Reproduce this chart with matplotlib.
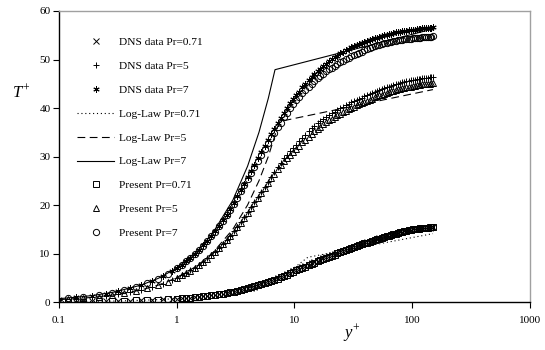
import matplotlib
matplotlib.use("Agg")
import matplotlib.pyplot as plt
from matplotlib.ticker import FixedLocator, NullLocator, FixedFormatter

plt.rcParams['font.family'] = ['Liberation Serif', 'DejaVu Serif']
plt.rcParams['mathtext.fontset'] = 'custom'
plt.rcParams['mathtext.rm'] = 'Liberation Serif'
plt.rcParams['mathtext.it'] = 'Liberation Serif:italic'

# wall distance y+ : near-wall points differ, outer grid is common
yp_dns = [0.10, 0.14, 0.19, 0.25, 0.32, 0.40, 0.50, 0.62, 0.76, 0.92,
          1.01, 1.10, 1.20, 1.31, 1.43, 1.55, 1.68, 1.82, 1.97, 2.12,
          2.29, 2.46, 2.65, 2.84, 3.05, 3.27, 3.50, 3.75, 4.01, 4.29,
          4.58, 4.90, 5.22, 5.58, 5.94, 6.34, 6.74, 7.19, 7.64, 8.14,
          8.65, 9.20, 9.78, 10.4, 11.0, 11.7, 12.4, 13.2, 14.0, 14.8,
          15.7, 16.6, 17.6, 18.6, 19.7, 20.8, 22.0, 23.2, 24.5, 25.9,
          27.3, 28.8, 30.4, 32.0, 33.7, 35.5, 37.4, 39.3, 41.3, 43.4,
          45.6, 47.9, 50.3, 52.7, 55.3, 57.9, 60.6, 63.4, 66.3, 69.3,
          72.4, 75.6, 78.9, 82.3, 85.8, 89.4, 93.1, 96.9, 100.8, 104.8,
          108.9, 113.1, 117.4, 121.8, 126.3, 130.9, 135.6, 140.4, 145.2, 149.8]
yp_pre = [0.12, 0.16, 0.22, 0.28, 0.36, 0.45, 0.56, 0.69, 0.84] + yp_dns[10:]

# DNS data
dns_071 = [0.07, 0.10, 0.13, 0.18, 0.23, 0.28, 0.36, 0.44, 0.54, 0.65,
           0.72, 0.78, 0.85, 0.93, 1.02, 1.10, 1.19, 1.29, 1.40, 1.50,
           1.62, 1.74, 1.87, 2.00, 2.15, 2.29, 2.45, 2.61, 2.80, 2.97,
           3.18, 3.43, 3.64, 3.86, 4.09, 4.34, 4.59, 4.86, 5.11, 5.40,
           5.68, 6.00, 6.32, 6.62, 6.88, 7.17, 7.44, 7.72, 8.00, 8.24,
           8.51, 8.75, 9.00, 9.23, 9.48, 9.69, 9.91, 10.13, 10.36, 10.58,
           10.77, 10.98, 11.19, 11.36, 11.54, 11.73, 11.93, 12.13, 12.30, 12.46,
           12.62, 12.79, 12.97, 13.11, 13.27, 13.42, 13.58, 13.70, 13.83, 13.97,
           14.10, 14.22, 14.36, 14.46, 14.56, 14.66, 14.76, 14.86, 14.96, 15.02,
           15.08, 15.15, 15.21, 15.26, 15.28, 15.30, 15.33, 15.35, 15.38, 15.40]
dns_5 = [0.50, 0.70, 0.95, 1.25, 1.60, 2.00, 2.50, 3.10, 3.80, 4.60,
         5.05, 5.49, 5.97, 6.52, 7.09, 7.70, 8.30, 8.98, 9.70, 10.40,
         11.17, 11.94, 12.81, 13.67, 14.61, 15.51, 16.45, 17.48, 18.54, 19.52,
         20.53, 21.65, 22.66, 23.74, 24.82, 25.85, 26.85, 27.86, 28.72, 29.60,
         30.31, 31.04, 31.74, 32.44, 33.10, 33.87, 34.52, 35.16, 35.80, 36.28,
         36.82, 37.27, 37.72, 38.14, 38.58, 38.92, 39.26, 39.60, 39.96, 40.28,
         40.56, 40.86, 41.16, 41.38, 41.62, 41.87, 42.14, 42.40, 42.63, 42.84,
         43.06, 43.29, 43.52, 43.69, 43.87, 44.05, 44.24, 44.40, 44.58, 44.76,
         44.90, 45.02, 45.16, 45.27, 45.37, 45.48, 45.59, 45.71, 45.81, 45.87,
         45.93, 46.00, 46.06, 46.12, 46.16, 46.21, 46.26, 46.30, 46.35, 46.40]
dns_7 = [0.70, 0.98, 1.33, 1.75, 2.24, 2.80, 3.50, 4.34, 5.32, 6.44,
         7.07, 7.69, 8.38, 9.14, 9.97, 10.79, 11.67, 12.63, 13.65, 14.63,
         15.73, 16.84, 18.03, 19.21, 20.49, 21.77, 23.10, 24.40, 25.74, 26.98,
         28.25, 29.66, 30.87, 32.13, 33.39, 34.59, 35.75, 36.94, 37.97, 39.07,
         40.04, 41.00, 41.87, 42.68, 43.40, 44.24, 44.96, 45.68, 46.40, 46.96,
         47.59, 48.13, 48.68, 49.17, 49.67, 50.06, 50.44, 50.82, 51.24, 51.60,
         51.91, 52.24, 52.55, 52.74, 52.94, 53.16, 53.39, 53.62, 53.80, 53.97,
         54.15, 54.33, 54.52, 54.66, 54.82, 54.97, 55.12, 55.24, 55.35, 55.47,
         55.57, 55.67, 55.77, 55.83, 55.89, 55.94, 56.00, 56.05, 56.11, 56.17,
         56.23, 56.30, 56.36, 56.41, 56.44, 56.47, 56.50, 56.54, 56.57, 56.60]

# present model
pre_071 = [0.09, 0.11, 0.16, 0.20, 0.26, 0.32, 0.40, 0.49, 0.60,
           0.72, 0.78, 0.85, 0.93, 1.02, 1.10, 1.19, 1.29, 1.40, 1.51,
           1.63, 1.75, 1.88, 2.01, 2.16, 2.31, 2.47, 2.65, 2.83, 3.02,
           3.22, 3.44, 3.63, 3.85, 4.07, 4.32, 4.56, 4.82, 5.07, 5.34,
           5.62, 5.92, 6.23, 6.51, 6.75, 7.03, 7.29, 7.57, 7.85, 8.09,
           8.36, 8.61, 8.87, 9.11, 9.35, 9.57, 9.79, 10.02, 10.26, 10.48,
           10.68, 10.90, 11.11, 11.29, 11.47, 11.66, 11.87, 12.07, 12.25, 12.41,
           12.58, 12.76, 12.94, 13.08, 13.24, 13.39, 13.55, 13.68, 13.81, 13.95,
           14.08, 14.20, 14.34, 14.45, 14.55, 14.65, 14.75, 14.86, 14.96, 15.03,
           15.09, 15.16, 15.23, 15.28, 15.31, 15.34, 15.36, 15.39, 15.42, 15.45]
pre_5 = [0.60, 0.80, 1.10, 1.40, 1.80, 2.25, 2.80, 3.45, 4.20,
         5.05, 5.48, 5.96, 6.49, 7.06, 7.64, 8.26, 8.94, 9.66, 10.34,
         11.11, 11.87, 12.73, 13.58, 14.50, 15.38, 16.30, 17.30, 18.34, 19.32,
         20.33, 21.45, 22.44, 23.48, 24.53, 25.48, 26.40, 27.34, 28.15, 28.98,
         29.65, 30.32, 30.96, 31.60, 32.20, 32.90, 33.50, 34.10, 34.70, 35.18,
         35.72, 36.17, 36.62, 37.04, 37.48, 37.82, 38.16, 38.50, 38.86, 39.18,
         39.46, 39.76, 40.06, 40.28, 40.52, 40.77, 41.04, 41.30, 41.53, 41.74,
         41.96, 42.19, 42.42, 42.59, 42.77, 42.95, 43.13, 43.27, 43.42, 43.57,
         43.70, 43.82, 43.96, 44.06, 44.15, 44.24, 44.33, 44.42, 44.51, 44.58,
         44.66, 44.73, 44.80, 44.86, 44.90, 44.94, 44.98, 45.02, 45.06, 45.10]
pre_7 = [0.84, 1.12, 1.54, 1.96, 2.52, 3.15, 3.92, 4.83, 5.88,
         7.07, 7.68, 8.36, 9.11, 9.92, 10.74, 11.61, 12.54, 13.55, 14.52,
         15.61, 16.69, 17.87, 19.02, 20.28, 21.51, 22.80, 24.05, 25.34, 26.52,
         27.74, 29.08, 30.25, 31.47, 32.70, 33.82, 34.90, 36.02, 37.01, 38.05,
         38.97, 39.90, 40.77, 41.56, 42.25, 43.06, 43.72, 44.36, 45.00, 45.52,
         46.11, 46.60, 47.10, 47.54, 47.98, 48.34, 48.70, 49.06, 49.45, 49.78,
         50.06, 50.36, 50.66, 50.88, 51.12, 51.37, 51.64, 51.90, 52.12, 52.31,
         52.50, 52.71, 52.92, 53.05, 53.19, 53.33, 53.47, 53.57, 53.67, 53.78,
         53.86, 53.94, 54.02, 54.08, 54.14, 54.19, 54.25, 54.30, 54.36, 54.40,
         54.44, 54.48, 54.52, 54.56, 54.59, 54.62, 54.65, 54.68, 54.72, 54.75]

# conductive sublayer + log-law
law_y_071 = [0.1, 0.15, 0.2, 0.3, 0.5, 0.7, 1.0, 1.5, 2.0, 3.0, 5.0, 7.0, 10.0, 13.0, 150.0]
law_t_071 = [0.071, 0.107, 0.142, 0.213, 0.355, 0.497, 0.71, 1.07, 1.42, 2.13, 3.55, 4.97, 7.1, 9.23, 14.1]
law_y_5 = [0.1, 0.15, 0.2, 0.3, 0.5, 0.7, 1.0, 1.5, 2.0, 3.0, 4.0, 5.0, 6.0, 7.44, 150.0]
law_t_5 = [0.5, 0.75, 1.0, 1.5, 2.5, 3.5, 5.0, 7.5, 10.0, 15.0, 20.0, 25.0, 30.0, 37.2, 43.8]
law_y_7 = [0.1, 0.15, 0.2, 0.3, 0.5, 0.7, 1.0, 1.5, 2.0, 3.0, 4.0, 5.0, 6.0, 6.84, 150.0]
law_t_7 = [0.7, 1.05, 1.4, 2.1, 3.5, 4.9, 7.0, 10.5, 14.0, 21.0, 28.0, 35.0, 42.0, 47.9, 56.3]

xticks = [0.1, 1, 10, 100, 1000]
xtick_labels = ['0.1', '1', '10', '100', '1000']
yticks = [0, 10, 20, 30, 40, 50, 60]

fig = plt.figure(figsize=(5.45, 3.5), dpi=100)
ax = fig.add_axes([0.108, 0.137, 0.8645, 0.8316])

mk = dict(color='black', linestyle='none', markersize=4.5, markeredgewidth=0.7)
ax.plot(yp_dns, dns_071, marker='x', label='DNS data Pr=0.71', **mk)
ax.plot(yp_dns, dns_5, marker='+', label='DNS data Pr=5', **mk)
ax.plot(yp_dns, dns_7, marker=(6, 2, 0), label='DNS data Pr=7', **mk)
ax.plot(law_y_071, law_t_071, color='black', lw=0.8, linestyle=(0, (1, 2.5)), label='Log-Law Pr=0.71')
ax.plot(law_y_5, law_t_5, color='black', lw=0.8, linestyle=(0, (7, 4)), label='Log-Law Pr=5')
ax.plot(law_y_7, law_t_7, color='black', lw=0.8, linestyle='-', label='Log-Law Pr=7')
mo = dict(color='black', linestyle='none', markersize=4.5, markeredgewidth=0.7, markerfacecolor='none')
ax.plot(yp_pre, pre_071, marker='s', label='Present Pr=0.71', **mo)
ax.plot(yp_pre, pre_5, marker='^', label='Present Pr=5', **mo)
ax.plot(yp_pre, pre_7, marker='o', label='Present Pr=7', **mo)

ax.set_xscale('log')
ax.set_xlim(0.1, 1000)
ax.set_ylim(0, 60)
ax.xaxis.set_major_locator(FixedLocator(xticks))
ax.xaxis.set_major_formatter(FixedFormatter(xtick_labels))
ax.xaxis.set_minor_locator(NullLocator())
ax.set_yticks(yticks)
ax.tick_params(axis='both', direction='out', length=4, width=0.8, labelsize=8, colors='black')
ax.tick_params(axis='x', pad=6)
ax.tick_params(axis='y', pad=2)

for s in ['top', 'right']:
    ax.spines[s].set_color('#a0a0a0')
    ax.spines[s].set_linewidth(1.0)
for s in ['left', 'bottom']:
    ax.spines[s].set_color('black')
    ax.spines[s].set_linewidth(1.0)

ax.text(-0.08, 0.72, r'$T^{+}$', transform=ax.transAxes, fontsize=12, ha='center', va='center')
ax.text(0.622, -0.107, r'$y^{+}$', transform=ax.transAxes, fontsize=12, ha='center', va='center')

ax.legend(loc='upper left', bbox_to_anchor=(0.038, 0.91), frameon=False, fontsize=8.2,
          numpoints=1, handlelength=3.3, handletextpad=0.4, labelspacing=1.22,
          borderpad=0, borderaxespad=0)

fig.savefig('out.png', dpi=100)
